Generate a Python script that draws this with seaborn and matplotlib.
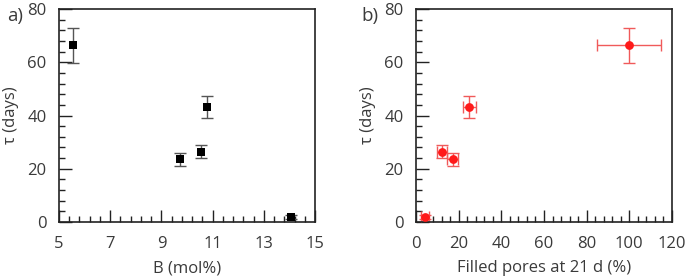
import matplotlib
matplotlib.use("Agg")
import matplotlib.pyplot as plt
import seaborn as sns
import pandas as pd
from matplotlib.ticker import MultipleLocator

sns.set_theme(style="white")
plt.rcParams['font.family'] = ['Open Sans', 'DejaVu Sans']

# Data
boron = [5.53, 9.73, 10.53, 10.8, 14.07]
tau = [66.4, 23.5, 26.4, 43.2, 2.0]
tau_err = [6.5, 2.35, 2.5, 4.3, 0.8]
filled = [100.0, 17.2, 12.2, 25.0, 4.2]
filled_err = [15.0, 2.7, 2.5, 3.0, 2.0]

df = pd.DataFrame({"B": boron, "tau": tau, "tau_err": tau_err,
                   "filled": filled, "filled_err": filled_err})

fig = plt.figure(figsize=(6.85, 2.79), dpi=100)
ax1 = fig.add_axes([0.0861, 0.2043, 0.3738, 0.7634])
ax2 = fig.add_axes([0.6073, 0.2043, 0.3737, 0.7634])

txt = "#3a3a3a"
fs = 12

# Panel a
ax1.errorbar(df["B"], df["tau"], yerr=df["tau_err"], fmt="none",
             ecolor="#555555", elinewidth=1.0, capsize=4, capthick=1.0, zorder=2)
sns.scatterplot(data=df, x="B", y="tau", ax=ax1, marker="s", s=34,
                color="black", edgecolor="black", linewidth=0, zorder=3)
ax1.set_xlim(5, 15)
ax1.set_ylim(0, 80)
ax1.xaxis.set_major_locator(MultipleLocator(2, offset=1))
ax1.xaxis.set_minor_locator(MultipleLocator(0.4, offset=0.2))
ax1.set_xlabel("B (mol%)", fontsize=fs, color=txt, labelpad=6)

# Panel b
ax2.errorbar(df["filled"], df["tau"], xerr=df["filled_err"], yerr=df["tau_err"],
             fmt="none", ecolor="#f05a5a", elinewidth=1.0, capsize=4, capthick=1.0, zorder=2)
sns.scatterplot(data=df, x="filled", y="tau", ax=ax2, marker="o", s=40,
                color="#ff1a1a", edgecolor="#ff1a1a", linewidth=0, zorder=3)
ax2.set_xlim(0, 120)
ax2.set_ylim(0, 80)
ax2.xaxis.set_major_locator(MultipleLocator(20))
ax2.xaxis.set_minor_locator(MultipleLocator(4))
ax2.set_xlabel("Filled pores at 21 d (%)", fontsize=fs, color=txt, labelpad=6)

for ax in (ax1, ax2):
    ax.yaxis.set_major_locator(MultipleLocator(20))
    ax.yaxis.set_minor_locator(MultipleLocator(4))
    ax.set_ylabel("τ (days)", fontsize=fs, color=txt, labelpad=6)
    ax.tick_params(which="both", direction="in", top=False, right=False,
                   bottom=True, left=True, colors="#222222", labelcolor=txt,
                   labelsize=fs)
    ax.tick_params(which="major", length=9, width=1.0)
    ax.tick_params(axis="x", which="major", pad=10)
    ax.tick_params(axis="y", which="major", pad=9)
    ax.tick_params(which="minor", length=4.5, width=1.0)
    for sp in ax.spines.values():
        sp.set_color("#222222")
        sp.set_linewidth(1.2)

fig.text(0.011, 0.975, "a)", fontsize=13.5, color=txt, va="top", ha="left")
fig.text(0.528, 0.975, "b)", fontsize=13.5, color=txt, va="top", ha="left")

fig.savefig("out.png", dpi=100)
